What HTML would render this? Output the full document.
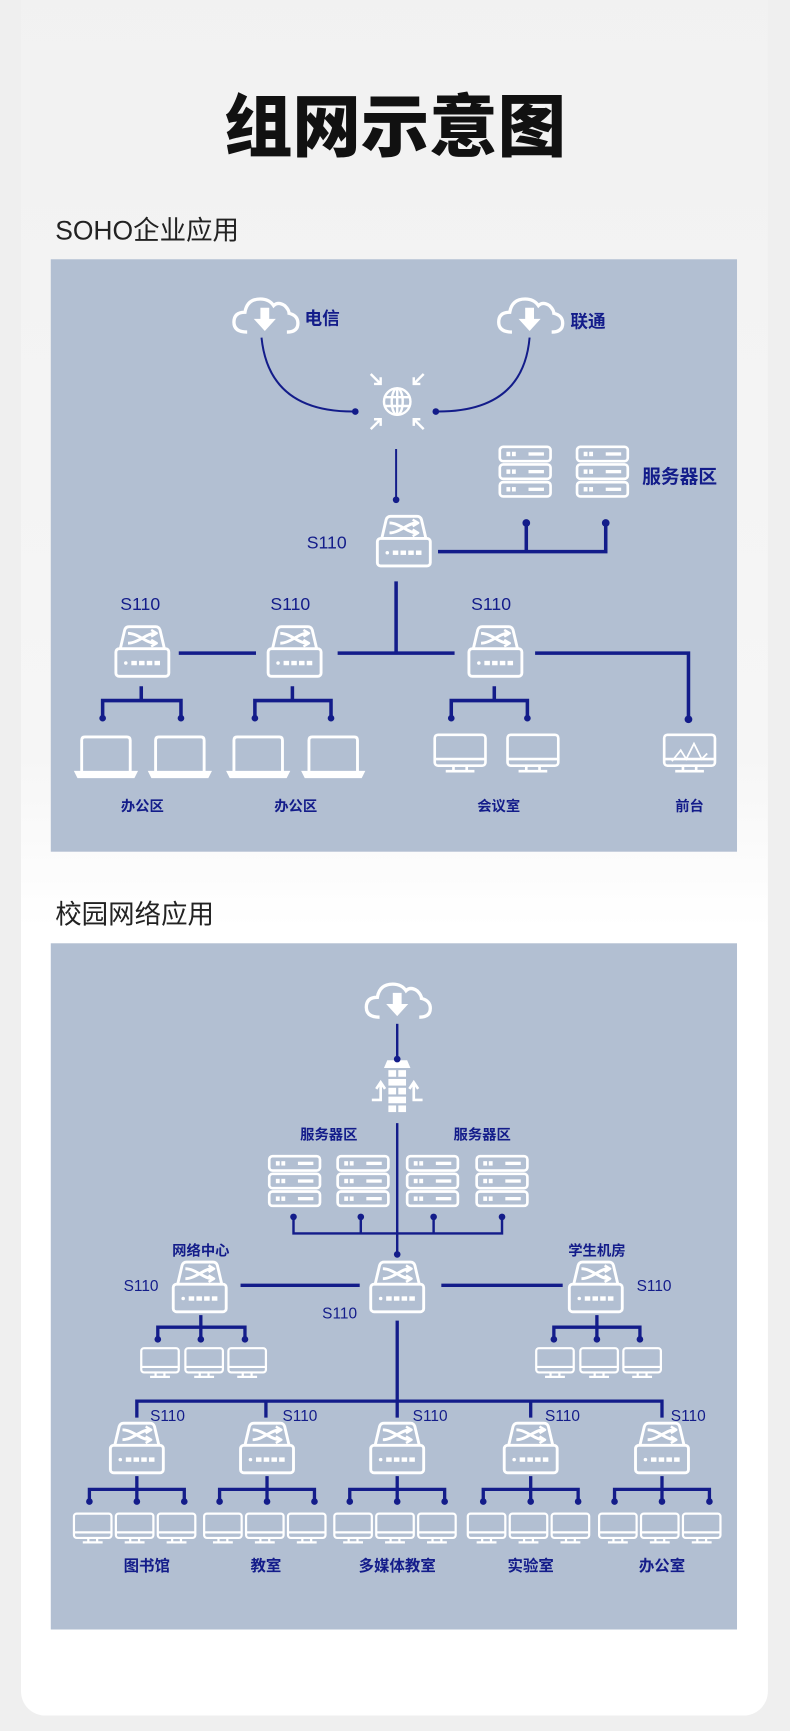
<!DOCTYPE html>
<html><head><meta charset="utf-8"><style>
html,body{margin:0;padding:0;background:#efefef;}
svg{display:block;}
text{font-family:"Liberation Sans","Noto Sans CJK SC",sans-serif;}
</style></head><body>
<svg width="790" height="1731" viewBox="0 0 716 1569" xmlns="http://www.w3.org/2000/svg">
<defs>
<linearGradient id="bg" x1="0" y1="0" x2="0" y2="1"><stop offset="0" stop-color="#f1f1f1"/><stop offset="0.45" stop-color="#f6f6f6"/><stop offset="0.55" stop-color="#ffffff"/><stop offset="1" stop-color="#ffffff"/></linearGradient>
<g id="sw" fill="none" stroke="#fff" stroke-width="2.6" stroke-linejoin="round">
<path d="M-20,-3 L-16,-20 Q-15,-23 -12,-23 L12,-23 Q15,-23 16,-20 L20,-3"/>
<rect x="-24" y="-3" width="48" height="25" rx="3"/>
<path d="M-13,-17 C-4,-17 4,-8 11,-8 M-13,-8 C-4,-8 4,-17 11,-17"/>
<path d="M8,-20 L13,-17 L8,-14 M8,-11 L13,-8 L8,-5" stroke-width="2.2"/>
<circle cx="-15" cy="10" r="1.6" fill="#fff" stroke="none"/>
<g stroke="none" fill="#fff"><rect x="-10" y="8" width="5" height="4"/><rect x="-3" y="8" width="5" height="4"/><rect x="4" y="8" width="5" height="4"/><rect x="11" y="8" width="5" height="4"/></g>
</g>
<g id="srvu"><rect x="-23" y="0" width="46" height="13" rx="3" fill="none" stroke="#fff" stroke-width="2.4"/><rect x="-17" y="4.5" width="3.5" height="4" fill="#fff"/><rect x="-12" y="4.5" width="3.5" height="4" fill="#fff"/><rect x="3" y="5" width="14" height="3" fill="#fff"/></g>
<g id="srv"><use href="#srvu" y="0"/><use href="#srvu" y="16"/><use href="#srvu" y="32"/></g>
<g id="cloud"><path d="M-16,14 Q-28,14 -28,5 Q-28,-4 -18,-4 Q-16,-16 -4,-16 Q4,-16 8,-10 Q12,-14 18,-10 Q22,-6 22,-3 Q30,-1 30,6 Q30,14 20,14" fill="none" stroke="#fff" stroke-width="3"/><path d="M-4,-8 L4,-8 L4,2 L10,2 L0,13 L-10,2 L-4,2 Z" fill="#fff"/></g>
<g id="lap" fill="none" stroke="#fff" stroke-width="2.6"><path d="M-22,16 L-22,-13 Q-22,-16 -19,-16 L19,-16 Q22,-16 22,-13 L22,16"/><path d="M-27,16 L27,16 L25,20 L-25,20 Z" fill="#fff"/></g>
<g id="mon" fill="none" stroke="#fff" stroke-width="2.4"><rect x="-23" y="-16" width="46" height="28" rx="3"/><line x1="-23" y1="6" x2="23" y2="6"/><path d="M-6,12 L-6,16 M6,12 L6,16 M-13,17 L13,17"/></g>
<g id="mons" fill="none" stroke="#fff" stroke-width="2"><rect x="-17" y="-12" width="34" height="22" rx="2.5"/><line x1="-17" y1="5" x2="17" y2="5"/><path d="M-4,10 L-4,13 M4,10 L4,13 M-9,14 L9,14"/></g>
</defs>
<rect width="716" height="1569" fill="#efefef"/>
<rect x="19" y="-30" width="677" height="1585" rx="22" fill="url(#bg)"/>
<text x="358" y="137" text-anchor="middle" font-size="62" font-weight="900" fill="#111">组网示意图</text>
<text x="50" y="217" font-size="24" fill="#222">SOHO企业应用</text>
<text x="50" y="837" font-size="24" fill="#222">校园网络应用</text>

<!-- Panel 1 -->
<rect x="46" y="235" width="622" height="537" fill="#b2bfd2"/>
<g fill="#131c8a" font-weight="bold">
<text x="276" y="294" font-size="16">电信</text>
<text x="517" y="297" font-size="16">联通</text>
<text x="582" y="438" font-size="17">服务器区</text>
<text x="278" y="497" font-size="16" font-weight="normal">S110</text>
<text x="109" y="553" font-size="16" font-weight="normal">S110</text>
<text x="245" y="553" font-size="16" font-weight="normal">S110</text>
<text x="427" y="553" font-size="16" font-weight="normal">S110</text>
<g font-size="13" text-anchor="middle"><text x="129" y="735">办公区</text><text x="268" y="735">办公区</text><text x="452" y="735">会议室</text><text x="625" y="735">前台</text></g>
</g>
<use href="#cloud" x="240" y="287"/>
<use href="#cloud" x="480" y="287"/>
<g fill="none" stroke="#131c8a" stroke-width="1.8">
<path d="M237,306 Q244,374 322,373"/>
<path d="M480,306 Q474,374 395,373"/>
<line x1="359" y1="407" x2="359" y2="453"/>
</g>
<g fill="#131c8a"><circle cx="322" cy="373" r="3"/><circle cx="395" cy="373" r="3"/><circle cx="359" cy="453" r="3"/></g>
<g fill="none" stroke="#fff" stroke-width="2.2">
<circle cx="360" cy="364" r="12"/><ellipse cx="360" cy="364" rx="5" ry="12"/><line x1="348" y1="360" x2="372" y2="360"/><line x1="348" y1="368" x2="372" y2="368"/><line x1="360" y1="352" x2="360" y2="376"/>
<path d="M336,339 L345,348 M345,342 L345,348 L339,348"/>
<path d="M384,339 L375,348 M375,342 L375,348 L381,348"/>
<path d="M336,389 L345,380 M345,386 L345,380 L339,380"/>
<path d="M384,389 L375,380 M375,386 L375,380 L381,380"/>
</g>
<use href="#srv" x="476" y="405"/>
<use href="#srv" x="546" y="405"/>
<use href="#sw" x="366" y="491"/>
<g fill="none" stroke="#131c8a" stroke-width="3.2">
<path d="M397,500 L549,500 L549,475 M477,500 L477,475"/>
<line x1="359" y1="527" x2="359" y2="592"/>
<line x1="162" y1="592" x2="232" y2="592"/>
<line x1="306" y1="592" x2="412" y2="592"/>
<path d="M485,592 L624,592 L624,652"/>
<path d="M128,622 L128,635 M93,650 L93,635 L164,635 L164,650"/>
<path d="M265,622 L265,635 M231,650 L231,635 L300,635 L300,650"/>
<path d="M448,622 L448,635 M409,650 L409,635 L478,635 L478,650"/>
</g>
<g fill="#131c8a"><circle cx="477" cy="474" r="3.5"/><circle cx="549" cy="474" r="3.5"/><circle cx="624" cy="652" r="3.5"/>
<circle cx="93" cy="651" r="3"/><circle cx="164" cy="651" r="3"/><circle cx="231" cy="651" r="3"/><circle cx="300" cy="651" r="3"/><circle cx="409" cy="651" r="3"/><circle cx="478" cy="651" r="3"/></g>
<use href="#sw" x="129" y="591"/>
<use href="#sw" x="267" y="591"/>
<use href="#sw" x="449" y="591"/>
<use href="#lap" x="96" y="684"/>
<use href="#lap" x="163" y="684"/>
<use href="#lap" x="234" y="684"/>
<use href="#lap" x="302" y="684"/>
<use href="#mon" x="417" y="682"/>
<use href="#mon" x="483" y="682"/>
<use href="#mon" x="625" y="682"/>
<path d="M609,690 L617,680 L622,688 L629,674 L636,688 L641,683" fill="none" stroke="#fff" stroke-width="1.6"/>

<!-- Panel 2 -->
<rect x="46" y="855" width="622" height="622" fill="#b2bfd2"/>
<use href="#cloud" x="360" y="908"/>
<g fill="#fff">
<path d="M351,961 L369,961 L372,968 L348,968 Z"/>
<rect x="352" y="970" width="7" height="6"/><rect x="361" y="970" width="7" height="6"/>
<rect x="352" y="978" width="16" height="6"/>
<rect x="352" y="986" width="7" height="6"/><rect x="361" y="986" width="7" height="6"/>
<rect x="352" y="994" width="16" height="6"/>
<rect x="352" y="1002" width="7" height="6"/><rect x="361" y="1002" width="7" height="6"/>
</g>
<g fill="none" stroke="#fff" stroke-width="2.4"><path d="M337,997 L345,997 L345,983 M341,987 L345,981 L349,987"/><path d="M383,997 L375,997 L375,983 M371,987 L375,981 L379,987"/></g>
<g fill="#131c8a" font-weight="bold" font-size="13" text-anchor="middle">
<text x="298" y="1033">服务器区</text><text x="437" y="1033">服务器区</text>
<text x="182" y="1138">网络中心</text><text x="541" y="1138">学生机房</text>
<g font-size="14"><text x="133" y="1424">图书馆</text><text x="241" y="1424">教室</text><text x="360" y="1424">多媒体教室</text><text x="481" y="1424">实验室</text><text x="600" y="1424">办公室</text></g>
</g>
<g fill="#131c8a" font-size="14">
<text x="112" y="1170">S110</text><text x="292" y="1195">S110</text><text x="577" y="1170">S110</text>
<text x="136" y="1288">S110</text><text x="256" y="1288">S110</text><text x="374" y="1288">S110</text><text x="494" y="1288">S110</text><text x="608" y="1288">S110</text>
</g>
<use href="#srv" x="267" y="1048"/>
<use href="#srv" x="329" y="1048"/>
<use href="#srv" x="392" y="1048"/>
<use href="#srv" x="455" y="1048"/>
<g fill="none" stroke="#131c8a" stroke-width="2.2">
<line x1="360" y1="928" x2="360" y2="960"/>
<line x1="360" y1="1018" x2="360" y2="1136"/>
<path d="M266,1103 L266,1118 L455,1118 L455,1103 M327,1103 L327,1118 M393,1103 L393,1118"/>
</g>
<g fill="#131c8a"><circle cx="360" cy="960" r="3"/><circle cx="360" cy="1137" r="3"/>
<circle cx="266" cy="1103" r="3"/><circle cx="327" cy="1103" r="3"/><circle cx="393" cy="1103" r="3"/><circle cx="455" cy="1103" r="3"/></g>
<use href="#sw" x="360" y="1167"/>
<use href="#sw" x="181" y="1167"/>
<use href="#sw" x="540" y="1167"/>
<g fill="none" stroke="#131c8a" stroke-width="3">
<line x1="218" y1="1165" x2="326" y2="1165"/>
<line x1="400" y1="1165" x2="510" y2="1165"/>
<line x1="360" y1="1197" x2="360" y2="1285"/>
<path d="M124,1285 L124,1270 L600,1270 L600,1285 M241,1270 L241,1285 M481,1270 L481,1285"/>
<path d="M182,1192 L182,1213 M143,1213 L143,1203 L222,1203 L222,1213"/>
<path d="M541,1192 L541,1213 M502,1213 L502,1203 L580,1203 L580,1213"/>
</g>
<g fill="#131c8a"><circle cx="143" cy="1214" r="3"/><circle cx="182" cy="1214" r="3"/><circle cx="222" cy="1214" r="3"/><circle cx="502" cy="1214" r="3"/><circle cx="541" cy="1214" r="3"/><circle cx="580" cy="1214" r="3"/></g>
<use href="#mons" x="145" y="1234"/><use href="#mons" x="185" y="1234"/><use href="#mons" x="224" y="1234"/>
<use href="#mons" x="503" y="1234"/><use href="#mons" x="543" y="1234"/><use href="#mons" x="582" y="1234"/>
<g id="grp">
<use href="#sw" x="124" y="1313"/>
<g fill="none" stroke="#131c8a" stroke-width="3"><path d="M124,1338 L124,1360 M81,1360 L81,1350 L167,1350 L167,1360"/></g>
<g fill="#131c8a"><circle cx="81" cy="1361" r="3"/><circle cx="124" cy="1361" r="3"/><circle cx="167" cy="1361" r="3"/></g>
<use href="#mons" x="84" y="1384"/><use href="#mons" x="122" y="1384"/><use href="#mons" x="160" y="1384"/>
</g>
<use href="#grp" x="118"/>
<use href="#grp" x="236"/>
<use href="#grp" x="357"/>
<use href="#grp" x="476"/>
</svg>
</body></html>
